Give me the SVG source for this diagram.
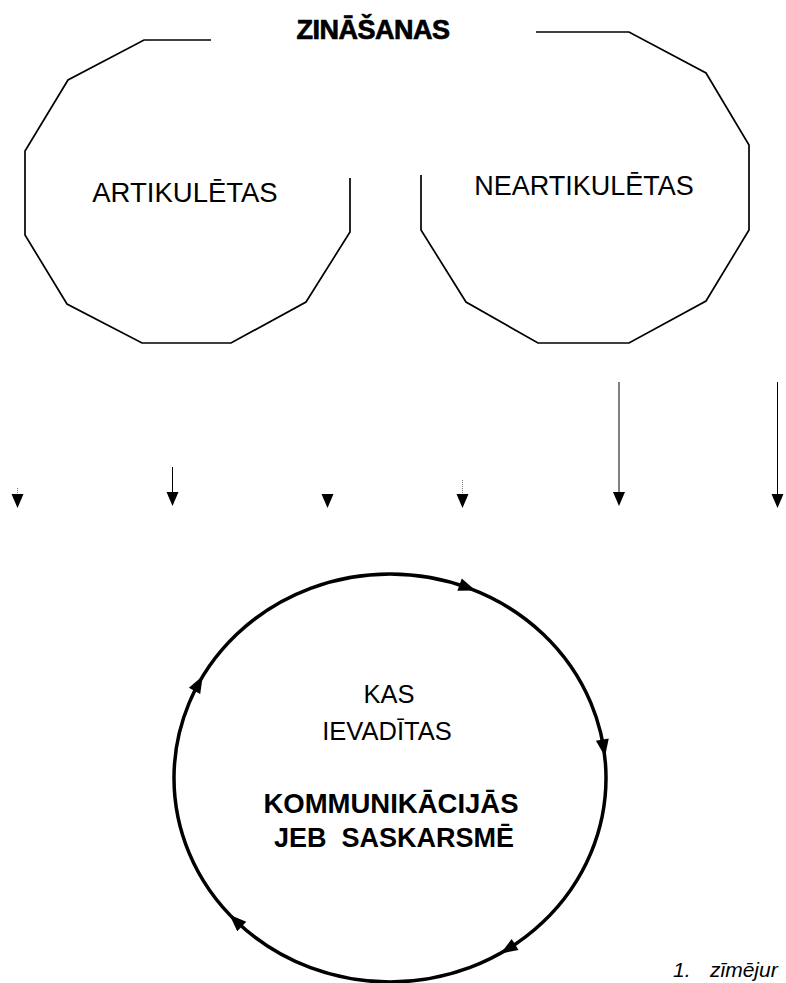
<svg xmlns="http://www.w3.org/2000/svg" xmlns:xlink="http://www.w3.org/1999/xlink" width="786" height="983" viewBox="0 0 786 983">
  <style>
    .bg { fill: #ffffff; }
    .poly { fill: none; stroke: #000; stroke-width: 1.7; stroke-linejoin: miter; }
    .ring { fill: none; stroke: #000; stroke-width: 3.5; }
    .t { font-family: "Liberation Sans", Arial, sans-serif; fill: #000; text-anchor: middle; }
    .b { font-weight: bold; }
    .heavy { stroke: #000; stroke-width: 0.7; }
    .cap { font-family: "Liberation Sans", Arial, sans-serif; font-style: italic; fill: #000; }
    .ln { stroke: #000; stroke-width: 1; fill: none; }
    .faint { stroke: #777; stroke-width: 1; stroke-dasharray: 1 1; fill: none; }
    .head { fill: #000; }
  </style>
  <defs>
    <path id="dn" d="M-6,0 L6,0 L0,14 Z"/>
    <path id="ah" d="M9,0 L-8,-6.5 L-8,6.5 Z"/>
  </defs>
  <rect class="bg" x="0" y="0" width="786" height="983"/>

  <g id="title">
    <text class="t b heavy" x="373" y="39" font-size="27" letter-spacing="-0.5">ZINĀŠANAS</text>
  </g>

  <g id="artikuletas">
    <path class="poly" d="M211,40 L144,40 L68,80 L25,151 L25,235 L67,304 L142,343 L231,343 L306,302 L350,232 L350,178"/>
    <text class="t" x="185" y="202" font-size="27.5">ARTIKULĒTAS</text>
  </g>

  <g id="neartikuletas">
    <path class="poly" d="M536,32 L629,32 L706,73 L749,145 L749,230 L706,301 L629,343 L538,343 L466,302 L421,230 L421,175"/>
    <text class="t" x="584" y="195" font-size="27">NEARTIKULĒTAS</text>
  </g>

  <g id="connectors">
    <line class="faint" x1="17.5" y1="488" x2="17.5" y2="495"/>
    <use href="#dn" class="head" x="17.5" y="494"/>
    <line class="ln" x1="172.5" y1="467" x2="172.5" y2="493"/>
    <use href="#dn" class="head" x="172.5" y="492"/>
    <use href="#dn" class="head" x="327.5" y="494"/>
    <line class="faint" x1="462.5" y1="480" x2="462.5" y2="495"/>
    <use href="#dn" class="head" x="462.5" y="494"/>
    <line class="ln" x1="619" y1="382" x2="619" y2="493"/>
    <use href="#dn" class="head" x="619" y="492"/>
    <line class="ln" x1="777.5" y1="382" x2="777.5" y2="495"/>
    <use href="#dn" class="head" x="777.5" y="494"/>
  </g>

  <g id="communication">
    <ellipse class="ring" cx="390" cy="778" rx="216" ry="204"/>
    <use href="#ah" class="head" transform="translate(467.1,587.4) rotate(19.8)"/>
    <use href="#ah" class="head" transform="translate(603.6,747.5) rotate(80.9)"/>
    <use href="#ah" class="head" transform="translate(508.3,948.7) rotate(148.3)"/>
    <use href="#ah" class="head" transform="translate(236,921) rotate(-136.1)"/>
    <use href="#ah" class="head" transform="translate(198.4,683.8) rotate(-61.1)"/>
    <text class="t" x="389" y="703" font-size="25.5">KAS</text>
    <text class="t" x="387" y="740" font-size="25.5">IEVADĪTAS</text>
    <text class="t b" x="391" y="813" font-size="27.5">KOMMUNIKĀCIJĀS</text>
    <text class="t b" x="394" y="847" font-size="27" xml:space="preserve">JEB  SASKARSMĒ</text>
  </g>

  <g id="caption">
    <text class="cap" font-size="21" y="977"><tspan x="673">1.</tspan><tspan x="710">zīmējur</tspan></text>
  </g>
</svg>
